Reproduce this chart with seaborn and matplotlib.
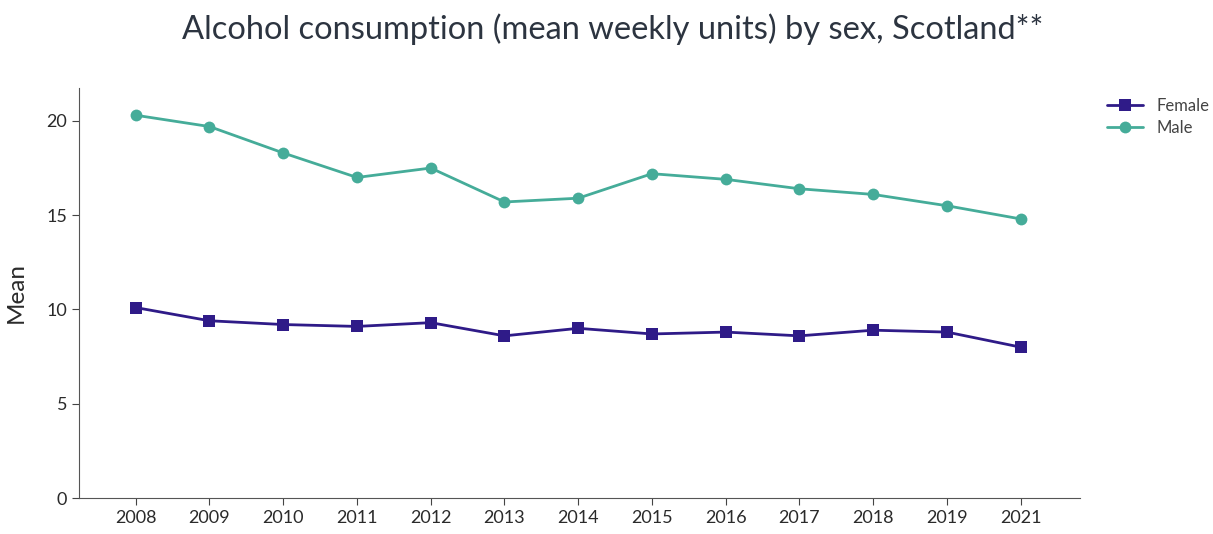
import matplotlib
matplotlib.use("Agg")
import matplotlib.pyplot as plt
import pandas as pd
import seaborn as sns

# Values
years = ["2008", "2009", "2010", "2011", "2012", "2013", "2014",
         "2015", "2016", "2017", "2018", "2019", "2021"]
female = [10.1, 9.4, 9.2, 9.1, 9.3, 8.6, 9.0, 8.7, 8.8, 8.6, 8.9, 8.8, 8.0]
male = [20.3, 19.7, 18.3, 17.0, 17.5, 15.7, 15.9, 17.2, 16.9, 16.4, 16.1, 15.5, 14.8]

df = pd.DataFrame({
    "Year": years * 2,
    "Mean": female + male,
    "Sex": ["Female"] * len(years) + ["Male"] * len(years),
})

sns.set_style("ticks")
plt.rcParams["font.family"] = ["Lato", "DejaVu Sans"]
palette = {"Female": "#2f1b88", "Male": "#45ac99"}

fig = plt.figure(figsize=(12.13, 5.34), dpi=100)
ax = fig.add_axes([0.0651, 0.0674, 0.825, 0.768])

sns.lineplot(data=df, x="Year", y="Mean", hue="Sex", style="Sex",
             markers={"Female": "s", "Male": "o"}, dashes=False,
             palette=palette, linewidth=2, markersize=8.5,
             markeredgewidth=0, sort=False, ax=ax)

ax.set_ylim(0, 21.75)
ax.set_xlim(-0.77, len(years) - 1 + 0.8)
ax.set_yticks([0, 5, 10, 15, 20])
ax.set_xlabel("")
ax.set_ylabel("Mean", fontsize=17.5, color="#2a2a2a", labelpad=14)
ax.tick_params(labelsize=13, colors="#444444", length=5)
for lab in ax.get_xticklabels() + ax.get_yticklabels():
    lab.set_color("#2a2a2a")
sns.despine(ax=ax)
for s in ["left", "bottom"]:
    ax.spines[s].set_color("#555555")

handles, labels = ax.get_legend_handles_labels()
ax.legend_.remove()
fig.legend(handles, labels, loc="upper left", bbox_to_anchor=(0.9, 0.845),
           frameon=False, fontsize=12, handlelength=2.2, labelspacing=0.35,
           labelcolor="#444444")

fig.suptitle("Alcohol consumption (mean weekly units) by sex, Scotland**",
             x=0.505, y=0.975, fontsize=23.5, color="#2c3440")

fig.savefig("out.png", dpi=100)
